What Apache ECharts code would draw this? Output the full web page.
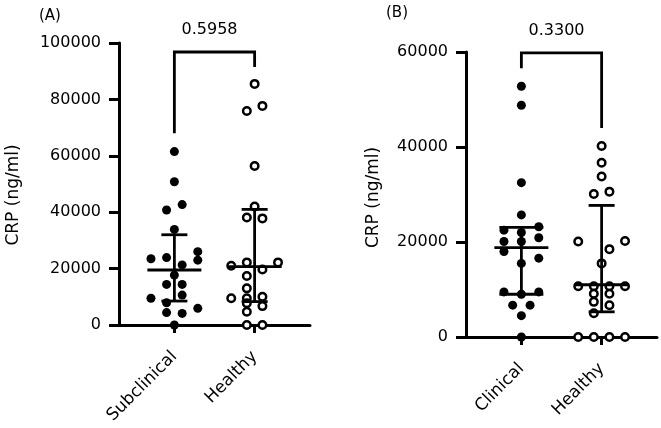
<!DOCTYPE html>
<html>
<head>
<meta charset="utf-8">
<script src="https://cdn.jsdelivr.net/npm/echarts@6/dist/echarts.min.js"></script>
<style>
  html, body { margin: 0; padding: 0; background: #fff; }
  #main { width: 661px; height: 428px; }
</style>
</head>
<body>
<div id="main"></div>
<script>
// panel A: subclinical vs healthy
var catsA = ["Subclinical", "Healthy"];
var subVals = [61500, 50800, 40800, 42700, 33900, 23500, 23900, 26000, 23000, 21300,
  17700, 14400, 14400, 10600, 9500, 7900, 4400, 4100, 5900, 0];
var subLane = [0, 0, -1, 1, 0, -3, -1, 3, 3, 1, 0, -1, 1, 1, -3, -1, -1, 1, 3, 0];
var healthyAVals = [85500, 77700, 75900, 56400, 42000, 38100, 37800, 21000, 22200, 22200,
  19700, 17400, 13000, 9500, 9500, 10000, 7700, 6700, 4700, 0, 0];
var healthyALane = [0, 1, -1, 0, 0, -1, 1, -3, -1, 3, 1, -1, -1, -3, -1, 1, -1, 1, -1, -1, 1];
// [low, centre, high]
var subStats = [8500, 19500, 32000];
var healthyAStats = [8300, 20700, 41000];
// bracket: [top, left leg end, right leg end]
var bracketA = [96800, 68000, 91500];
var pA = "0.5958";

// panel B: clinical vs healthy
var catsB = ["Clinical", "Healthy"];
var clinVals = [52800, 48800, 32500, 25700, 22500, 23200, 22000, 20900, 20100, 20100,
  18000, 16600, 15500, 9500, 9000, 9500, 6700, 6700, 4500, 0];
var clinLane = [0, 0, 0, 0, -2, 2, 0, 2, -2, 0, -2, 2, 0, -2, 0, 2, -1, 1, 0, 0];
var healthyBVals = [40200, 36700, 33800, 30100, 30600, 20100, 20200, 18500, 15500, 10700,
  10700, 10700, 10700, 9100, 9100, 7400, 6700, 5000, 0, 0, 0, 0];
var healthyBLane = [0, 0, 0, -1, 1, -3, 3, 1, 0, -3, -1, 1, 3, -1, 1, -1, 1, -1, -3, -1, 1, 3];
var clinStats = [9000, 18800, 23100];
var healthyBStats = [5300, 11000, 27700];
var bracketB = [59800, 56600, 44000];
var pB = "0.3300";

var FONT = "DejaVu Sans";
var chart = echarts.init(document.getElementById("main"));

function pts(cat, vals, lanes, step) {
  return vals.map(function (v, i) {
    return { value: [cat, v], symbolOffset: [lanes[i] * step, 0] };
  });
}

function dotSeries(idx, data, open) {
  return {
    type: "scatter",
    xAxisIndex: idx, yAxisIndex: idx,
    data: data,
    symbol: "circle",
    symbolSize: open ? 7.5 : 9,
    itemStyle: open
      ? { color: "#fff", borderColor: "#000", borderWidth: 2.5, opacity: 1 }
      : { color: "#000", opacity: 1 },
    z: 3,
    silent: true
  };
}

function barSeries(idx, cat, stats, cap) {
  return {
    type: "custom",
    xAxisIndex: idx, yAxisIndex: idx,
    clip: false,
    z: 4,
    silent: true,
    data: [[cat, stats[0], stats[1], stats[2]]],
    encode: { x: 0, y: [1, 2, 3] },
    renderItem: function (params, api) {
      var lo = api.coord([api.value(0), api.value(1)]);
      var mid = api.coord([api.value(0), api.value(2)]);
      var hi = api.coord([api.value(0), api.value(3)]);
      var st = { stroke: "#000", lineWidth: 2.8 };
      return {
        type: "group",
        children: [
          { type: "line", shape: { x1: lo[0], y1: lo[1], x2: hi[0], y2: hi[1] }, style: st },
          { type: "line", shape: { x1: mid[0] - 27, y1: mid[1], x2: mid[0] + 27, y2: mid[1] }, style: st },
          { type: "line", shape: { x1: lo[0] - cap, y1: lo[1], x2: lo[0] + cap, y2: lo[1] }, style: st },
          { type: "line", shape: { x1: hi[0] - cap, y1: hi[1], x2: hi[0] + cap, y2: hi[1] }, style: st }
        ]
      };
    }
  };
}

function bracketSeries(idx, b, label) {
  return {
    type: "custom",
    xAxisIndex: idx, yAxisIndex: idx,
    clip: false,
    silent: true,
    data: [[1, 2, b[0], b[1], b[2]]],
    encode: { x: [0, 1], y: [2, 3, 4] },
    renderItem: function (params, api) {
      var tl = api.coord([api.value(0), api.value(2)]);
      var tr = api.coord([api.value(1), api.value(2)]);
      var bl = api.coord([api.value(0), api.value(3)]);
      var br = api.coord([api.value(1), api.value(4)]);
      return {
        type: "group",
        children: [
          {
            type: "polyline",
            shape: { points: [bl, tl, tr, br] },
            style: { stroke: "#000", lineWidth: 2.8, fill: null }
          },
          {
            type: "text",
            style: {
              text: label, x: (tl[0] + tr[0]) / 2 - 5, y: tl[1] - 14,
              align: "center", verticalAlign: "bottom",
              font: "16px " + FONT, fill: "#000"
            }
          }
        ]
      };
    }
  };
}

function xAxis(idx, cats) {
  return {
    type: "value", gridIndex: idx,
    min: 0.31, max: 2.69,
    splitLine: { show: false },
    axisLine: { lineStyle: { color: "#000", width: 3 } },
    axisTick: { customValues: [1, 2], length: 8, lineStyle: { width: 3, color: "#000" } },
    axisLabel: {
      customValues: [1, 2], rotate: 45, margin: 29,
      color: "#000", fontSize: 17, fontFamily: FONT,
      formatter: function (v) { return cats[Math.round(v) - 1]; }
    }
  };
}

function yAxis(idx, max, gap, shift) {
  return {
    type: "value", gridIndex: idx,
    min: 0, max: max, interval: 20000,
    name: "CRP (ng/ml)", nameLocation: "middle", nameGap: gap, nameRotate: 90,
    nameTextStyle: { color: "#000", fontSize: 17, fontFamily: FONT, padding: [0, shift, 0, 0] },
    splitLine: { show: false },
    axisLine: { show: true, lineStyle: { color: "#000", width: 3 } },
    axisTick: { length: 10, lineStyle: { width: 3, color: "#000" } },
    axisLabel: {
      margin: 18, color: "#000", fontSize: 16, fontFamily: FONT,
      formatter: function (v) { return String(v); }
    }
  };
}

var option = {
  backgroundColor: "#fff",
  animation: false,
  graphic: [
    { type: "text", left: 39, top: 9, style: { text: "(A)", font: "15px " + FONT, fill: "#000" } },
    { type: "text", left: 386, top: 6, style: { text: "(B)", font: "15px " + FONT, fill: "#000" } }
  ],
  grid: [
    { left: 119, top: 43, width: 191, height: 282 },
    { left: 466, top: 52, width: 191, height: 285 }
  ],
  xAxis: [xAxis(0, catsA), xAxis(1, catsB)],
  yAxis: [yAxis(0, 100000, 97, 22), yAxis(1, 60000, 84, 6)],
  series: [
    dotSeries(0, pts(1, subVals, subLane, 7.8), false),
    dotSeries(0, pts(2, healthyAVals, healthyALane, 7.8), true),
    barSeries(0, 1, subStats, 13),
    barSeries(0, 2, healthyAStats, 13),
    bracketSeries(0, bracketA, pA),
    dotSeries(1, pts(1, clinVals, clinLane, 8.7), false),
    dotSeries(1, pts(2, healthyBVals, healthyBLane, 7.8), true),
    barSeries(1, 1, clinStats, 22),
    barSeries(1, 2, healthyBStats, 13),
    bracketSeries(1, bracketB, pB)
  ]
};
chart.setOption(option);
</script>
</body>
</html>
